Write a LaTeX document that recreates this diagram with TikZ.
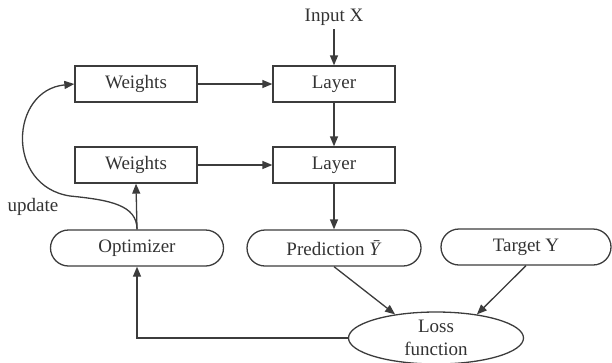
\documentclass[tikz,border=0pt]{standalone}
\usepackage{fontspec}
\setmainfont{Liberation Serif}
\usetikzlibrary{arrows.meta, positioning, shapes.geometric}
\definecolor{lineGray}{HTML}{3C3C3C}
\definecolor{textGray}{HTML}{333333}

\begin{document}
\begin{tikzpicture}[
    x=1pt, y=-1pt,
    >={Triangle[length=10pt,width=8pt]},
    block/.style={rectangle, draw=lineGray, line width=1.3pt, minimum width=122pt,
                  minimum height=36pt, inner sep=0pt, align=center,
                  font=\fontsize{19}{22}\selectfont\color{textGray}},
    pill/.style={rectangle, rounded corners=18pt, draw=lineGray, line width=1.3pt,
                 minimum height=36pt, inner sep=0pt, align=center,
                 font=\fontsize{19}{22}\selectfont\color{textGray}},
    plain/.style={inner sep=0pt, font=\fontsize{19}{22}\selectfont\color{textGray}},
    flow/.style={->, line width=1.3pt, lineGray},
  ]
    \useasboundingbox (0,0) rectangle (612,362);

    % Layers
    \node[plain] (inX) at (334,17) {Input X};
    \node[block] (lay1) at (334,84) {Layer};
    \node[block] (lay2) at (334,165) {Layer};

    % Weights
    \node[block] (wt1) at (136,84) {Weights};
    \node[block] (wt2) at (136,165) {Weights};

    % Bottom row
    \node[pill, minimum width=173pt] (opt) at (137,248) {Optimizer};
    \node[pill, minimum width=174pt] (pred) at (334,248) {Prediction \textit{Ȳ}};
    \node[pill, minimum width=170pt] (targ) at (526,247) {Target Y};
    \node[ellipse, draw=lineGray, line width=1.3pt, minimum width=175pt,
          minimum height=52pt, inner xsep=0pt, inner ysep=-8pt, align=center,
          font=\fontsize{19}{23}\selectfont\color{textGray}] (loss) at (436,338)
      {Loss\\function};

    \node[plain] (upd) at (33,207) {update};
    \coordinate (bend) at (70,196);

    % Arrows
    \draw[flow, shorten <=4pt] (inX.south) -- (lay1.north);
    \draw[flow] (lay1.south) -- (lay2.north);
    \draw[flow] (lay2.south) -- (pred.north);
    \draw[flow] (wt1.east) -- (lay1.west);
    \draw[flow] (wt2.east) -- (lay2.west);
    \draw[flow] (opt.north) -- (wt2.south);
    \draw[flow] (pred.south) -- (loss.150);
    \draw[flow] (targ.south) -- (loss.30);
    \draw[flow] (loss.west) -| (opt.south);
    \draw[flow] (opt.north) .. controls (137,205) and (110,200) .. (bend)
      .. controls (5,186) and (10,90) .. (wt1.west);
  \end{tikzpicture}
\end{document}
